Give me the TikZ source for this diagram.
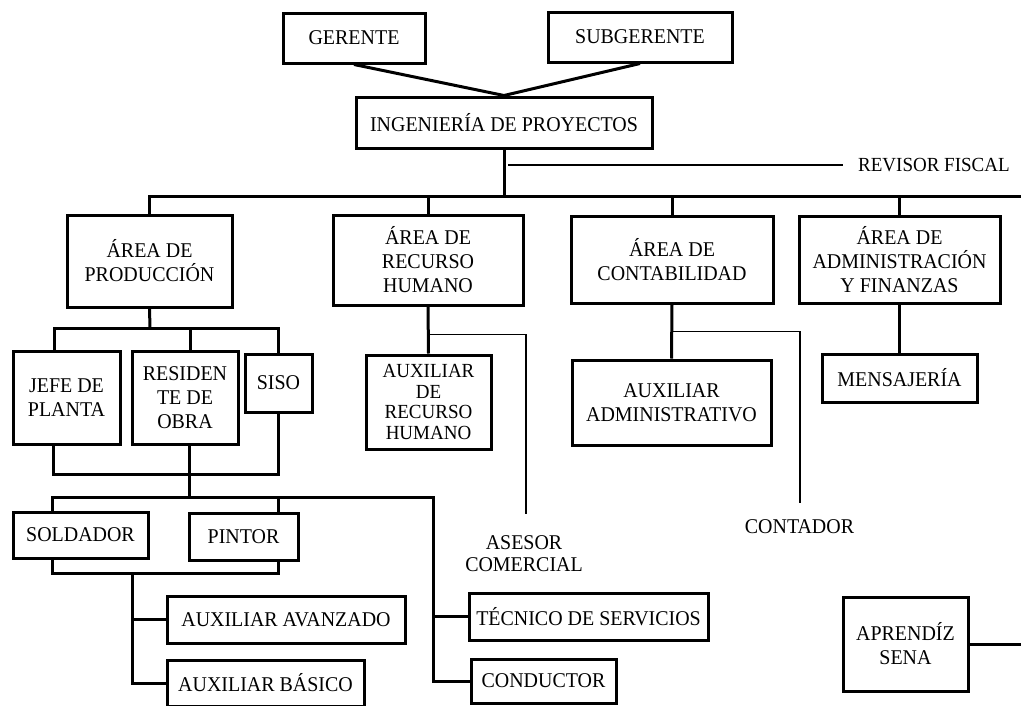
\documentclass[tikz,border=0pt]{standalone}
\usepackage{fontspec}
\setmainfont{Liberation Serif}[FakeStretch=0.95]
\usetikzlibrary{calc}
\tikzset{
  box/.style={draw, line width=3pt, align=center, inner sep=1pt, font=\fontsize{21}{24}\selectfont},
  boxtight/.style={box, font=\fontsize{20}{20.5}\selectfont},
  conn/.style={line width=3pt},
  thinline/.style={line width=1.2pt},
  lbl/.style={align=center, inner sep=0pt, font=\fontsize{21}{22}\selectfont},
}
\begin{document}
\begin{tikzpicture}[x=1pt,y=-1pt]
\useasboundingbox (0,0) rectangle (1021,705);
\clip (0,0) rectangle (1021,705);
\fill[white] (0,0) rectangle (1021,705);

% top
\node[box, minimum width=142pt, minimum height=50pt] (ger) at (354,38) {GERENTE};
\node[box, minimum width=184pt, minimum height=50pt] (sub) at (640,37) {SUBGERENTE};
\node[box, minimum width=296pt, minimum height=51pt] (ing) at (504,122.5) {INGENIERÍA DE PROYECTOS};
\node[lbl, anchor=west, font=\fontsize{20}{22}\selectfont] (rev) at (858,165) {REVISOR FISCAL};

% areas
\node[box, minimum width=165pt, minimum height=92pt] (prod) at (149.5,261) {ÁREA DE\\PRODUCCIÓN};
\node[box, minimum width=190pt, minimum height=90pt] (rrhh) at (428,260) {ÁREA DE\\RECURSO\\HUMANO};
\node[box, minimum width=202pt, minimum height=87pt] (cont) at (672,259.5) {ÁREA DE\\CONTABILIDAD};
\node[box, minimum width=201pt, minimum height=87pt] (adm) at (899.5,259.5) {ÁREA DE\\ADMINISTRACIÓN\\Y FINANZAS};

% level 3
\node[box, minimum width=107pt, minimum height=93pt] (jefe) at (66.5,397.5) {JEFE DE\\PLANTA};
\node[box, minimum width=106pt, minimum height=93pt] (resid) at (185,397.5) {RESIDEN\\TE DE\\OBRA};
\node[box, minimum width=67pt, minimum height=58pt] (siso) at (278.5,383) {SISO};
\node[boxtight, minimum width=125pt, minimum height=94pt] (auxrh) at (428.5,402) {AUXILIAR\\DE\\RECURSO\\HUMANO};
\node[box, minimum width=199pt, minimum height=85pt] (auxadm) at (671.5,402.5) {AUXILIAR\\ADMINISTRATIVO};
\node[box, minimum width=155pt, minimum height=48pt] (mens) at (899.5,378) {MENSAJERÍA};

% lower
\node[box, minimum width=135pt, minimum height=46pt] (sold) at (80.5,535) {SOLDADOR};
\node[box, minimum width=109pt, minimum height=47pt] (pint) at (243.5,536.5) {PINTOR};
\node[box, minimum width=238pt, minimum height=47pt] (auxav) at (286,619.5) {AUXILIAR AVANZADO};
\node[box, minimum width=197pt, minimum height=46pt] (auxbas) at (265.5,683) {AUXILIAR BÁSICO};
\node[box, minimum width=239pt, minimum height=47pt] (tec) at (588.5,616.5) {TÉCNICO DE SERVICIOS};
\node[box, minimum width=145pt, minimum height=44pt] (cond) at (543.5,681) {CONDUCTOR};
\node[box, minimum width=125pt, minimum height=94pt] (apr) at (905.5,644) {APRENDÍZ\\SENA};

\node[lbl] (ases) at (524,554) {ASESOR\\COMERCIAL};
\node[lbl] (contad) at (799.5,527) {CONTADOR};

% coordinates
\coordinate (busR) at (1021,196);
\coordinate (pb) at (150,328);
\coordinate (lb) at (189,474);
\coordinate (sb) at (189,497);
\coordinate (tcol) at (433,497);
\coordinate (ab) at (132,573);
\coordinate (asTop) at (526,514);
\coordinate (ctTop) at (800,503);
\coordinate (aprR) at (1021,644);

% connectors top
\draw[conn] (ger.south) -- (ing.north) -- (sub.south);
\draw[conn] (ing.south) -- (ing.south |- busR);
\draw[conn] (prod.north) |- (busR);
\draw[conn] (rrhh.north) -- (rrhh.north |- busR);
\draw[conn] (cont.north) -- (cont.north |- busR);
\draw[conn] (adm.north) -- (adm.north |- busR);
\draw[thinline] ([xshift=4pt]ing.south |- rev.west) -- ([xshift=-15pt]rev.west);

% production branch
\draw[conn] (prod.south) -- (pb);
\draw[conn] ([xshift=-12pt]jefe.north) |- (pb -| siso.north) -- (siso.north);
\draw[conn] ([xshift=5pt]resid.north) -- ([xshift=5pt]resid.north |- pb);
\draw[conn] ([xshift=-13pt]jefe.south) |- (siso.south |- lb) -- (siso.south);
\draw[conn] ([xshift=4pt]resid.south) -- (sb);
\draw[conn] ([xshift=-28.5pt]sold.north) |- (tcol) |- (cond.west);
\draw[conn] (tcol |- tec.west) -- (tec.west);
\draw[conn] ([xshift=34.5pt]pint.north) -- ([xshift=34.5pt]pint.north |- tcol);
\draw[conn] ([xshift=-28.5pt]sold.south) |- ([xshift=34.5pt]pint.south |- ab) -- ([xshift=34.5pt]pint.south);
\draw[conn] (ab) |- (auxbas.west);
\draw[conn] (ab |- auxav.west) -- (auxav.west);

% other areas
\draw[conn] (rrhh.south) -- (auxrh.north);
\draw[thinline] ($(rrhh.south)!0.6!(auxrh.north)$) -| (asTop);
\draw[conn] (cont.south) -- (auxadm.north);
\draw[thinline] ($(cont.south)!0.5!(auxadm.north)$) -| (ctTop);
\draw[conn] (adm.south) -- (mens.north);
\draw[conn] (apr.east) -- (aprR);
\end{tikzpicture}
\end{document}
